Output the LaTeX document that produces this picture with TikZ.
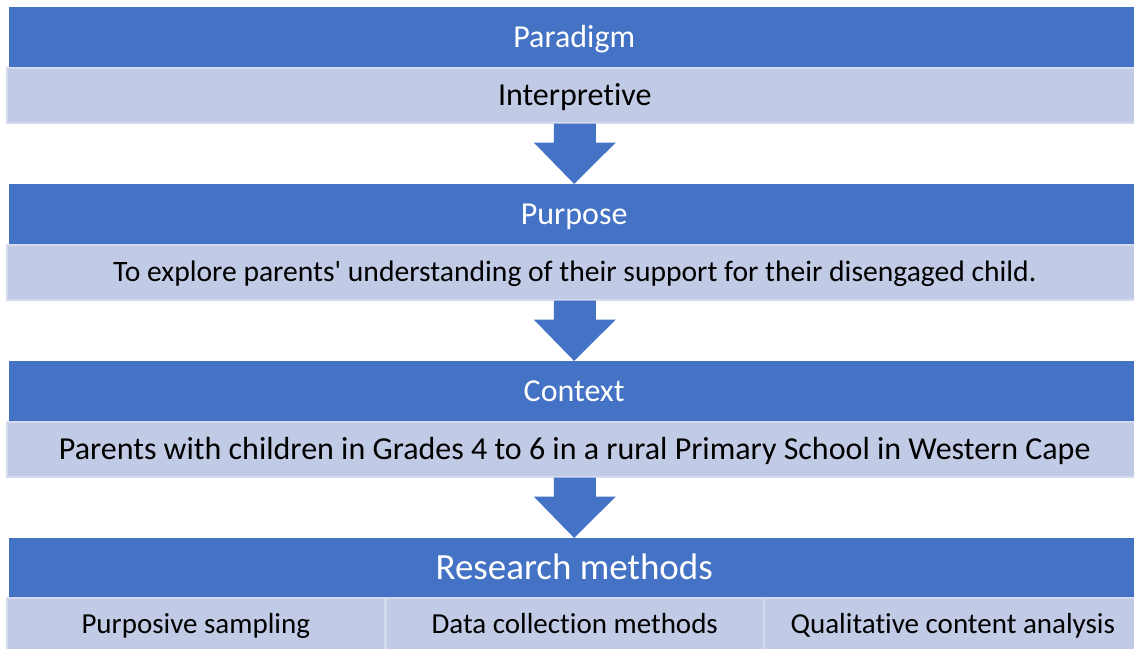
\documentclass[tikz,border=0pt]{standalone}
\usepackage{fontspec}
\setmainfont{Carlito}[Ligatures=NoCommon]
\usetikzlibrary{calc}
\definecolor{barblue}{HTML}{4472C4}
\definecolor{barlight}{HTML}{C2CBE6}
\definecolor{baredge}{HTML}{D5DBEF}
\tikzset{
	head/.style = {fill=barblue, text=white, inner sep=0pt, anchor=north west, text height=20.5pt, text depth=0pt,
		minimum width=1130pt, minimum height=60pt, font=\fontsize{32}{38}\selectfont},
	body/.style = {fill=barlight, draw=baredge, line width=1.5pt, inner sep=0pt, anchor=north west, text height=20.5pt, text depth=0pt,
		minimum width=1136pt, minimum height=55pt, font=\fontsize{32}{38}\selectfont},
	cell/.style = {body, minimum width=378pt, minimum height=52pt, text height=18.5pt, font=\fontsize{29}{35}\selectfont},
}
\newcommand{\flowarrow}[2]{%
	\fill[barblue] ($(#1.south)+(-21,0)$) -- ($(#1.south)+(21,0)$) -- ($(#1.south)+(21,19)$)
		-- ($(#1.south)+(41,19)$) -- (#2.north) -- ($(#1.south)+(-41,19)$)
		-- ($(#1.south)+(-21,19)$) -- cycle;}

\begin{document}
\begin{tikzpicture}[x=1pt, y=-1pt]
	\useasboundingbox (0,0) rectangle (1134,648);
	\node[head] (paradigm) at (9,7) {Paradigm};
	\node[body] (interp) at (6,67) {Interpretive};
	\node[head] (purpose) at (9,184) {Purpose};
	\node[body, text height=19pt, font=\fontsize{29.6}{35}\selectfont] (explore) at (6,244) {To explore parents\textquotesingle{} understanding of their support for their disengaged child.};
	\node[head] (context) at (9,361) {Context};
	\node[body] (parents) at (6,421) {Parents with children in Grades 4 to 6 in a rural Primary School in Western Cape};
	\node[head, minimum height=59pt, text height=23.5pt, font=\fontsize{37}{44}\selectfont] (methods) at (9,538) {Research methods};
	\node[cell] (sampling) at (6,597) {Purposive sampling};
	\node[cell] (collect) at (385,597) {Data collection methods};
	\node[cell] (analysis) at (763,597) {Qualitative content analysis};
	\flowarrow{interp}{purpose}
	\flowarrow{explore}{context}
	\flowarrow{parents}{methods}
\end{tikzpicture}
\end{document}
